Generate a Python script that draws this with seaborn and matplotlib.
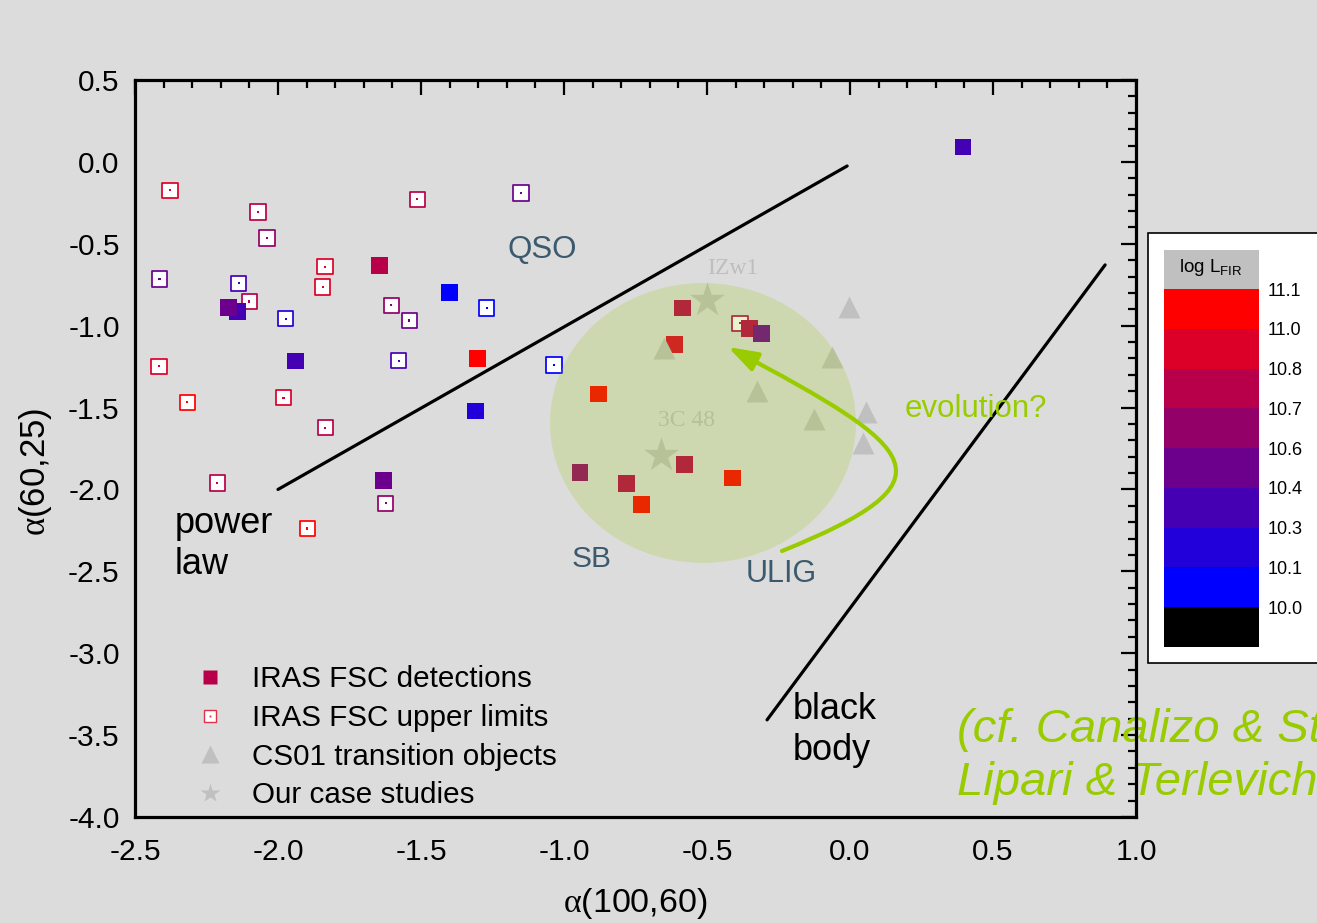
import numpy as np
import pandas as pd
import matplotlib
matplotlib.use("Agg")
import matplotlib.pyplot as plt
import seaborn as sns
from matplotlib.colors import ListedColormap, BoundaryNorm, to_hex
from matplotlib.cm import ScalarMappable
from matplotlib.patches import Ellipse, FancyArrowPatch, Rectangle
from matplotlib.path import Path
from matplotlib.lines import Line2D
from matplotlib.ticker import MultipleLocator, FormatStrFormatter

# ---------------------------------------------------------------- data
# IRAS FSC detections: alpha(100,60), alpha(60,25), log L_FIR
det_x = [-1.646, -1.401, -1.302, -1.309, -1.940, -2.142, -2.172, -1.632, 0.395,
         -0.585, -0.615, -0.351, -0.311, -0.878, -0.944, -0.783, -0.730, -0.579, -0.410]
det_y = [-0.631, -0.800, -1.203, -1.521, -1.216, -0.915, -0.888, -1.944, 0.091,
         -0.892, -1.114, -1.016, -1.046, -1.417, -1.895, -1.966, -2.090, -1.850, -1.930]
det_logl = [10.75, 10.05, 11.05, 10.2, 10.35, 10.35, 10.5, 10.5, 10.35,
            10.75, 10.9, 10.75, 10.5, 11.05, 10.65, 10.75, 11.05, 10.75, 11.05]

# IRAS FSC upper limits
ul_x = [-2.378, -2.070, -2.038, -1.836, -1.844, -2.414, -2.137, -2.100, -1.973, -2.416,
        -2.317, -1.981, -1.835, -2.212, -1.898, -1.623, -1.513, -1.150, -1.604, -1.541,
        -1.578, -1.270, -1.035, -0.385]
ul_y = [-0.173, -0.306, -0.465, -0.640, -0.764, -0.715, -0.741, -0.853, -0.957, -1.248,
        -1.468, -1.440, -1.623, -1.960, -2.239, -2.084, -0.228, -0.190, -0.875, -0.969,
        -1.214, -0.892, -1.240, -0.985]
ul_logl = [10.9, 10.75, 10.65, 10.9, 10.9, 10.5, 10.35, 10.75, 10.2, 10.9,
           11.05, 10.9, 10.75, 10.75, 11.05, 10.65, 10.75, 10.5, 10.65, 10.5,
           10.35, 10.05, 10.05, 10.75]

# CS01 transition objects
cs_x = [-0.005, -0.064, -0.324, -0.125, 0.055, 0.047, -0.650]
cs_y = [-0.884, -1.193, -1.399, -1.570, -1.527, -1.718, -1.138]

# case studies
case_names = ["IZw1", "3C 48"]
case_x = [-0.499, -0.662]
case_y = [-0.843, -1.789]

# reference loci
powerlaw_x = [-2.0, -0.01]
powerlaw_y = [-2.0, -0.025]
blackbody_x = [-0.290, 0.892]
blackbody_y = [-3.407, -0.629]

# starburst region and evolutionary path
sb_centre = (-0.514, -1.594)
sb_width, sb_height = 1.070, 1.709
evo_x = [-0.238, 0.375, 0.252, -0.427]
evo_y = [-2.376, -1.942, -1.759, -1.130]

# log L_FIR colour scale
lfir_bounds = [9.9, 10.0, 10.1, 10.3, 10.4, 10.6, 10.7, 10.8, 11.0, 11.1]
lfir_ticks = [10.0, 10.1, 10.3, 10.4, 10.6, 10.7, 10.8, 11.0, 11.1]
lfir_colours = ["#000000", "#0000FF", "#2200DA", "#4600B4", "#6C008C",
                "#920068", "#B8004A", "#DC0028", "#FF0000"]

# ---------------------------------------------------------------- style
sns.set_theme(style="white")
plt.rcParams["font.family"] = ["Liberation Sans", "DejaVu Sans"]
plt.rcParams["text.color"] = "black"
plt.rcParams["axes.unicode_minus"] = False
plt.rcParams["mathtext.fontset"] = "custom"
plt.rcParams["mathtext.rm"] = "Liberation Serif"
plt.rcParams["mathtext.sf"] = "Liberation Sans"

BG = "#DCDCDC"
SLATE = "#3C5A6E"
LIME = "#99CC00"
GREY = "#C0C0C0"

cmap = ListedColormap(lfir_colours)
norm = BoundaryNorm(lfir_bounds, cmap.N)

fig = plt.figure(figsize=(13.17, 9.23), dpi=100, facecolor=BG)
ax = fig.add_axes([135 / 1317, 1 - 817 / 923, 1001 / 1317, 737 / 923])
ax.set_facecolor(BG)

det = pd.DataFrame({"a100_60": det_x, "a60_25": det_y, "logL": det_logl})
det["colour"] = [to_hex(cmap(norm(v))) for v in det_logl]
ul = pd.DataFrame({"a100_60": ul_x, "a60_25": ul_y, "logL": ul_logl})
ul["colour"] = [to_hex(cmap(norm(v))) for v in ul_logl]
pal = {c: c for c in set(det["colour"]) | set(ul["colour"])}

# upper limits: open squares with a dot in the middle
sns.scatterplot(data=ul, x="a100_60", y="a60_25", hue="colour", palette=pal,
                marker="s", s=122, linewidth=1.25, legend=False, ax=ax, zorder=3)
coll = ax.collections[-1]
coll.set_facecolor("white")
coll.set_edgecolor(list(ul["colour"]))
sns.scatterplot(data=ul, x="a100_60", y="a60_25", hue="colour", palette=pal,
                marker="s", s=2.5, linewidth=0, legend=False, ax=ax, zorder=3.5)

# detections: filled squares
sns.scatterplot(data=det, x="a100_60", y="a60_25", hue="colour", palette=pal,
                marker="s", s=148, linewidth=0, legend=False, ax=ax, zorder=4)

# CS01 transition objects
sns.scatterplot(x=cs_x, y=cs_y, color=GREY, marker="^", s=250, linewidth=0,
                legend=False, ax=ax, zorder=5)
# case studies
sns.scatterplot(x=case_x, y=case_y, color=GREY, marker="*", s=700, linewidth=0,
                legend=False, ax=ax, zorder=5)
ax.text(case_x[0] + 0.09, case_y[0] + 0.195, case_names[0], fontsize=17,
        family="Liberation Serif", color="#BEBEBE", ha="center", va="center", zorder=5)
ax.text(case_x[1] + 0.09, case_y[1] + 0.207, case_names[1], fontsize=17,
        family="Liberation Serif", color="#BEBEBE", ha="center", va="center", zorder=5)

# starburst region
ax.add_patch(Ellipse(sb_centre, sb_width, sb_height, facecolor=LIME, alpha=0.2,
                     edgecolor="none", zorder=6))

# power-law and black-body loci
sns.lineplot(x=powerlaw_x, y=powerlaw_y, color="black", lw=2.3, sort=False, ax=ax, zorder=6)
sns.lineplot(x=blackbody_x, y=blackbody_y, color="black", lw=2.3, sort=False, ax=ax, zorder=6)

# evolutionary arrow
evo_path = Path(list(zip(evo_x, evo_y)),
                [Path.MOVETO, Path.CURVE4, Path.CURVE4, Path.CURVE4])
ax.add_patch(FancyArrowPatch(path=evo_path, arrowstyle="-|>,head_length=0.9,head_width=0.3",
                             mutation_scale=20, color=LIME, lw=3, zorder=7))

# annotations
ax.text(-1.077, -0.538, "QSO", fontsize=22.5, color=SLATE, ha="center", va="center", zorder=8)
ax.text(-0.902, -2.424, "SB", fontsize=21.5, color=SLATE, ha="center", va="center", zorder=8)
ax.text(-0.241, -2.516, "ULIG", fontsize=22, color=SLATE, ha="center", va="center", zorder=8)
ax.text(0.441, -1.510, "evolution?", fontsize=22.5, color=LIME, ha="center", va="center", zorder=8)
ax.text(-2.360, -2.333, "power\nlaw", fontsize=26, color="black", ha="left", va="center",
        linespacing=1.2, zorder=8)
ax.text(-0.199, -3.468, "black\nbody", fontsize=26, color="black", ha="left", va="center",
        linespacing=1.2, zorder=8)
ax.text(0.374, -3.630, "(cf. Canalizo & Stockton 2001;\nLipari & Terlevich 2006)",
        fontsize=34, style="italic", color=LIME, ha="left", va="center",
        linespacing=1.25, clip_on=False, zorder=1)

# axes
ax.set_xlim(-2.5, 1.0)
ax.set_ylim(-4.0, 0.5)
ax.xaxis.set_major_locator(MultipleLocator(0.5))
ax.yaxis.set_major_locator(MultipleLocator(0.5))
ax.xaxis.set_minor_locator(MultipleLocator(0.1))
ax.yaxis.set_minor_locator(MultipleLocator(0.1))
ax.xaxis.set_major_formatter(FormatStrFormatter("%.1f"))
ax.yaxis.set_major_formatter(FormatStrFormatter("%.1f"))
ax.tick_params(which="both", direction="in", top=True, right=True, color="black",
               labelsize=21.5, labelcolor="black")
ax.tick_params(which="major", length=11, width=1.6)
ax.tick_params(which="minor", length=5.5, width=1.6)
ax.tick_params(axis="y", which="major", pad=11)
ax.tick_params(axis="x", which="major", pad=15)
for sp in ax.spines.values():
    sp.set_color("black")
    sp.set_linewidth(2.3)
    sp.set_zorder(9)
ax.set_xlabel(r"$\mathrm{\alpha}$(100,60)", fontsize=24.5, color="black")
ax.set_ylabel(r"$\mathrm{\alpha}$(60,25)", fontsize=25, color="black")
ax.xaxis.set_label_coords(0.5, -0.094)
ax.yaxis.set_label_coords(-0.081, 0.468)

# legend
h_det = Line2D([], [], ls="none", marker="s", ms=9.5, mfc="#B8004A", mec="none")
h_ul = (Line2D([], [], ls="none", marker="s", ms=8.5, mfc="white", mec="#E0304A", mew=1.0),
        Line2D([], [], ls="none", marker="s", ms=1.3, mfc="#E0304A", mec="none"))
h_cs = Line2D([], [], ls="none", marker="^", ms=13, mfc=GREY, mec="none")
h_case = Line2D([], [], ls="none", marker="*", ms=15, mfc=GREY, mec="none")
ax.legend([h_det, h_ul, h_cs, h_case],
          ["IRAS FSC detections", "IRAS FSC upper limits",
           "CS01 transition objects", "Our case studies"],
          loc="upper left", bbox_to_anchor=(0.034, 0.222), frameon=False,
          fontsize=21.3, labelcolor="black", handlelength=2.0, handletextpad=0.4,
          labelspacing=0.36, borderpad=0.4, borderaxespad=0)

# log L_FIR colour key
fig.add_artist(Rectangle((1148 / 1317, 1 - 663 / 923), 0.2, 430 / 923,
                         transform=fig.transFigure, facecolor="white",
                         edgecolor="black", lw=1.2, zorder=-1))
fig.add_artist(Rectangle((1164 / 1317, 1 - 289 / 923), 95 / 1317, 39 / 923,
                         transform=fig.transFigure, facecolor=GREY,
                         edgecolor="none", zorder=-1))
fig.text(1211 / 1317, 1 - 268 / 923, r"log L$_{\mathsf{FIR}}$", fontsize=13.5,
         ha="center", va="center", color="black")
cax = fig.add_axes([1164 / 1317, 1 - 647 / 923, 95 / 1317, 358 / 923])
cb = fig.colorbar(ScalarMappable(norm=norm, cmap=cmap), cax=cax, ticks=lfir_ticks,
                  spacing="uniform")
cb.outline.set_visible(False)
cb.ax.set_yticklabels([f"{t:.1f}" for t in lfir_ticks])
cb.ax.tick_params(length=0, pad=6.5, labelsize=13, labelcolor="black")
cb.ax.minorticks_off()

fig.savefig("out.png", dpi=100, facecolor=BG)
